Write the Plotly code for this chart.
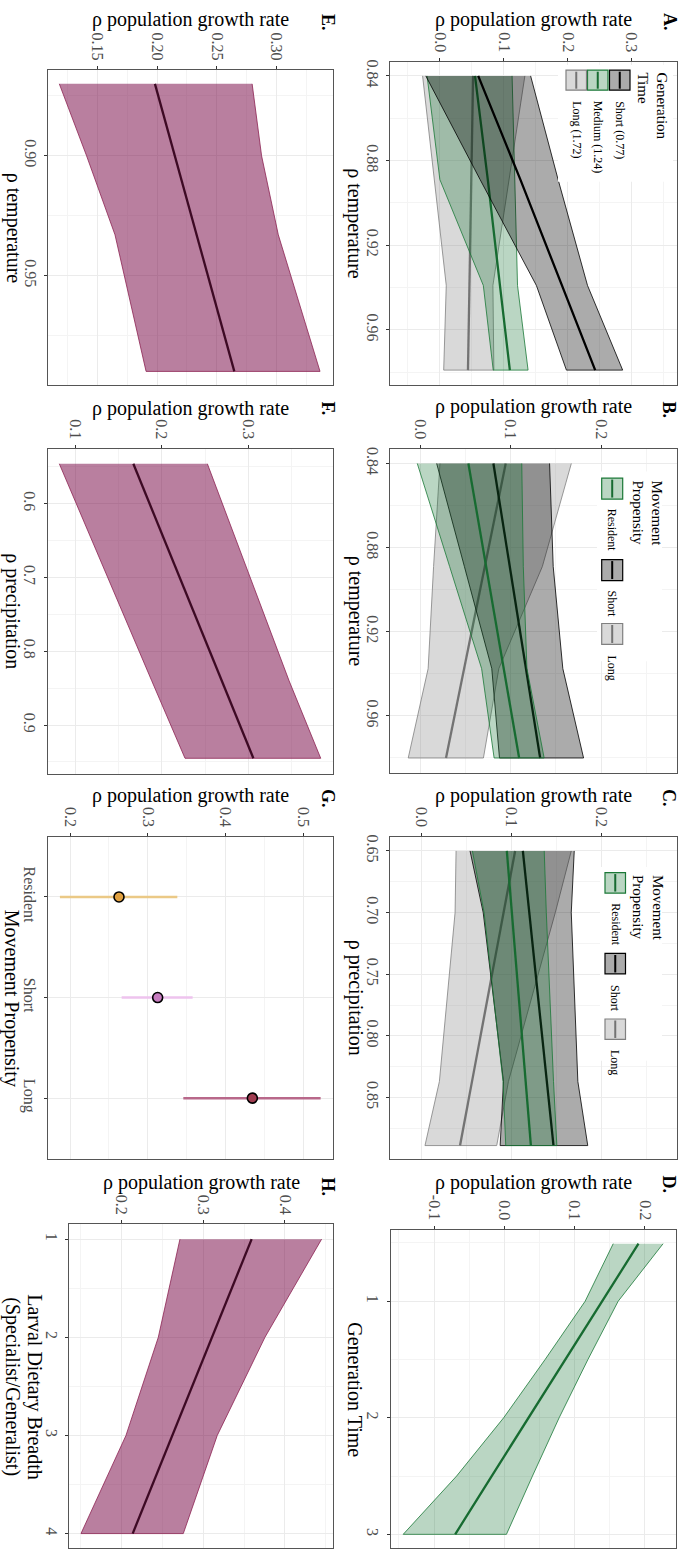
import plotly.graph_objects as go

W, H = 686, 1555
FONT = "Liberation Serif"

# ---------------- DATA ----------------
# Panel A: rho temperature x generation time
a_temp = [0.84, 0.889, 0.939, 0.979]
a_short_mean = [0.060, 0.126, 0.191, 0.243]
a_short_lo = [-0.022, 0.063, 0.151, 0.198]
a_short_hi = [0.142, 0.185, 0.231, 0.286]
a_med_mean = [0.055, 0.075, 0.094, 0.1095]
a_med_lo = [-0.020, 0.000, 0.068, 0.0835]
a_med_hi = [0.113, 0.117, 0.1215, 0.138]
a_long_mean = [0.052, 0.049, 0.046, 0.044]
a_long_lo = [-0.027, -0.009, 0.010, 0.006]
a_long_hi = [0.133, 0.1085, 0.083, 0.0845]
a_labels = ["Short (0.77)", "Medium (1.24)", "Long (1.72)"]

# Panel B: rho temperature x movement propensity
b_temp = [0.84, 0.889, 0.9375, 0.98]
b_res_mean = [0.0534, 0.073, 0.0924, 0.1094]
b_res_lo = [-0.003, 0.0327, 0.068, 0.0818]
b_res_hi = [0.1123, 0.114, 0.118, 0.137]
b_short_mean = [0.081, 0.099, 0.117, 0.1326]
b_short_lo = [0.0184, 0.049, 0.0792, 0.0877]
b_short_hi = [0.143, 0.147, 0.1576, 0.1805]
b_long_mean = [0.0946, 0.0715, 0.0487, 0.0287]
b_long_lo = [0.022, 0.015, 0.009, -0.013]
b_long_hi = [0.167, 0.135, 0.087, 0.070]
move_labels = ["Resident", "Short", "Long"]

# Panel C: rho precipitation x movement propensity
c_prec = [0.65, 0.70, 0.837, 0.889]
c_res_mean = [0.0952, 0.1008, 0.1161, 0.1219]
c_res_lo = [0.057, 0.070, 0.091, 0.094]
c_res_hi = [0.1367, 0.139, 0.147, 0.1507]
c_short_mean = [0.113, 0.1201, 0.1396, 0.147]
c_short_lo = [0.0544, 0.069, 0.0915, 0.0878]
c_short_hi = [0.170, 0.1667, 0.174, 0.185]
c_long_mean = [0.1044, 0.0916, 0.0566, 0.0433]
c_long_lo = [0.0389, 0.0378, 0.0204, 0.0044]
c_long_hi = [0.1667, 0.149, 0.097, 0.084]

# Panel D: generation time
d_gen = [0.506, 1.0, 1.5, 2.0, 2.5, 3.0]
d_mean = [0.191, 0.139, 0.087, 0.034, -0.018, -0.070]
d_lo = [0.155, 0.115, 0.058, -0.001, -0.068, -0.144]
d_hi = [0.226, 0.162, 0.119, 0.078, 0.040, 0.003]

# Panel E: rho temperature
e_temp = [0.870, 0.900, 0.933, 0.990]
e_mean = [0.1982, 0.2148, 0.2331, 0.2646]
e_lo = [0.1182, 0.141, 0.1648, 0.1908]
e_hi = [0.2795, 0.2874, 0.3014, 0.3363]

# Panel F: rho precipitation
f_prec = [0.546, 0.70, 0.84, 0.945]
f_mean = [0.1673, 0.2208, 0.2694, 0.3058]
f_lo = [0.0819, 0.1377, 0.1885, 0.2269]
f_hi = [0.2527, 0.3023, 0.347, 0.3835]

# Panel G: movement propensity (categorical)
g_cats = ["Resident", "Short", "Long"]
g_est = [0.263, 0.3127, 0.4345]
g_lo = [0.187, 0.2664, 0.3457]
g_hi = [0.338, 0.3577, 0.5223]

# Panel H: larval dietary breadth
h_breadth = [1, 2, 3, 4]
h_mean = [0.3592, 0.3106, 0.2620, 0.2135]
h_lo = [0.2714, 0.2449, 0.2053, 0.1502]
h_hi = [0.4449, 0.3755, 0.3171, 0.2755]

# ---------------- STYLE ----------------
SHORT = dict(fill="rgba(0,0,0,0.33)", edge="#000000", line="#000000")
MED = dict(fill="rgba(27,120,55,0.30)", edge="#1B7837", line="#176B31")
LONG = dict(fill="rgba(128,128,128,0.30)", edge="#808080", line="#737373")
MAROON = dict(fill="rgba(120,10,70,0.52)", edge="#8B2252", line="#3D0A24")
G_PT = ["#E0A040", "#C77CC0", "#A03C50"]
G_BAR = ["#EBC986", "#EEC3EE", "#B8688A"]


def px(x):
    return x / W


def py(y):
    return 1 - y / H


fig = go.Figure()


def band(i, pred, lo, hi, mean, st, lw=2.3):
    ax = "" if i == 1 else str(i)
    fig.add_trace(go.Scatter(
        x=list(hi) + list(lo)[::-1], y=list(pred) + list(pred)[::-1],
        fill="toself", fillcolor=st["fill"], mode="lines",
        line=dict(color=st["edge"], width=0.8),
        xaxis="x" + ax, yaxis="y" + ax, hoverinfo="skip", showlegend=False))
    fig.add_trace(go.Scatter(
        x=mean, y=pred, mode="lines", line=dict(color=st["line"], width=lw),
        xaxis="x" + ax, yaxis="y" + ax, showlegend=False))


# A
band(1, a_temp, a_long_lo, a_long_hi, a_long_mean, LONG)
band(1, a_temp, a_med_lo, a_med_hi, a_med_mean, MED)
band(1, a_temp, a_short_lo, a_short_hi, a_short_mean, SHORT)
# B
band(2, b_temp, b_long_lo, b_long_hi, b_long_mean, LONG)
band(2, b_temp, b_short_lo, b_short_hi, b_short_mean, SHORT)
band(2, b_temp, b_res_lo, b_res_hi, b_res_mean, MED)
# C
band(3, c_prec, c_long_lo, c_long_hi, c_long_mean, LONG)
band(3, c_prec, c_short_lo, c_short_hi, c_short_mean, SHORT)
band(3, c_prec, c_res_lo, c_res_hi, c_res_mean, MED)
# D
band(4, d_gen, d_lo, d_hi, d_mean, MED)
# E, F, H
band(5, e_temp, e_lo, e_hi, e_mean, MAROON)
band(6, f_prec, f_lo, f_hi, f_mean, MAROON)
band(8, h_breadth, h_lo, h_hi, h_mean, MAROON)
# G
for k, c in enumerate(g_cats):
    fig.add_trace(go.Scatter(
        x=[g_est[k]], y=[k + 1], mode="markers",
        error_x=dict(type="data", symmetric=False,
                     array=[g_hi[k] - g_est[k]], arrayminus=[g_est[k] - g_lo[k]],
                     color=G_BAR[k], thickness=2.5, width=0),
        marker=dict(size=10, color=G_PT[k], line=dict(color="#000000", width=1.6)),
        xaxis="x7", yaxis="y7", showlegend=False))

# ---------------- AXES ----------------
TICKFONT = dict(family=FONT, size=16, color="#4D4D4D")
common = dict(ticks="outside", ticklen=3, tickcolor="#333333", tickwidth=1,
              tickangle=90, tickfont=TICKFONT, showgrid=True, gridcolor="#EBEBEB",
              gridwidth=1, showline=True, linecolor="#555555", linewidth=1,
              mirror=True, zeroline=False, tickmode="array")


def minor(dt, t0):
    return dict(tickmode="linear", dtick=dt, tick0=t0, showgrid=True,
                gridcolor="#F4F4F4", gridwidth=0.6, ticks="")


def fmt(vals, f):
    return [f.format(v) for v in vals]


panels = {
    1: ((390, 677, 60, 383), [-0.078, 0.371], [0, 0.1, 0.2, 0.3], "{:.1f}", 0.05,
        [0.9858, 0.8334], [0.84, 0.88, 0.92, 0.96], "{:.2f}", (0.02, 0.84)),
    2: ((390, 677, 447.3, 771.7), [-0.0331, 0.2836], [0, 0.1, 0.2], "{:.1f}", 0.05,
        [0.987, 0.833], [0.84, 0.88, 0.92, 0.96], "{:.2f}", (0.02, 0.84)),
    3: ((390, 677, 835.7, 1158), [-0.0344, 0.284], [0, 0.1, 0.2], "{:.1f}", 0.05,
        [0.8995, 0.6384], [0.65, 0.70, 0.75, 0.80, 0.85], "{:.2f}", (0.025, 0.65)),
    4: ((390.7, 676, 1229.3, 1548.3), [-0.1618, 0.2444], [-0.1, 0, 0.1, 0.2], "{:.1f}", 0.05,
        [3.12, 0.386], [1, 2, 3], "{:d}", (0.5, 0.5)),
    5: ((48.3, 333.3, 68.3, 383.3), [0.109, 0.3474], [0.15, 0.20, 0.25, 0.30], "{:.2f}", 0.025,
        [0.9956, 0.8643], [0.90, 0.95], "{:.2f}", (0.025, 0.875)),
    6: ((47.7, 333.3, 447.3, 772.7), [0.0685, 0.398], [0.1, 0.2, 0.3], "{:.1f}", 0.05,
        [0.9659, 0.5256], [0.6, 0.7, 0.8, 0.9], "{:.1f}", (0.05, 0.55)),
    7: ((47.7, 333.3, 835.7, 1158), [0.1713, 0.5386], [0.2, 0.3, 0.4, 0.5], "{:.1f}", 0.05,
        [3.6, 0.4], [1, 2, 3], None, None),
    8: ((69.3, 333.3, 1224, 1548.3), [0.1359, 0.4592], [0.2, 0.3, 0.4], "{:.1f}", 0.05,
        [4.15, 0.85], [1, 2, 3, 4], "{:d}", (0.5, 0.5)),
}

layout_axes = {}
for i, (box, xr, xt, xf, xm, yr, yt, yf, ym) in panels.items():
    x0, x1, y0, y1 = box
    ax = "" if i == 1 else str(i)
    xa = dict(common)
    xa.update(domain=[px(x0), px(x1)], range=xr, side="top", anchor="y" + ax,
              tickvals=xt, ticktext=[("-" if v < 0 else "") + xf.format(abs(v)) for v in xt],
              minor=minor(xm, 0))
    ya = dict(common)
    ya.update(domain=[py(y1), py(y0)], range=yr, side="left", anchor="x" + ax,
              tickvals=yt, ticktext=(g_cats if yf is None else fmt(yt, yf)))
    if ym is not None:
        ya["minor"] = minor(ym[0], ym[1])
    layout_axes["xaxis" + ax] = xa
    layout_axes["yaxis" + ax] = ya

# ---------------- TEXT ----------------
ann = []


def text(x, y, t, size, angle=90, bold=False, xa="center", ya="middle", align="left"):
    ann.append(dict(x=px(x), y=py(y), xref="paper", yref="paper", text=("<b>%s</b>" % t if bold else t),
                    showarrow=False, textangle=angle, xanchor=xa, yanchor=ya, align=align,
                    font=dict(family=FONT, size=size, color="#000000")))


ytitle = "ρ population growth rate"
for (cx, cy) in [(533.5, 18), (533.5, 405), (533.5, 795), (533.5, 1182),
                 (190.8, 18), (190.5, 407), (190.5, 795), (201.3, 1182)]:
    text(cx, cy, ytitle, 20, angle=0)
text(355, 221.5, "ρ temperature", 20)
text(355, 609.5, "ρ temperature", 20)
text(355, 997, "ρ precipitation", 20)
text(355, 1389, "Generation Time", 20)
text(13, 226, "ρ temperature", 20)
text(13, 610, "ρ precipitation", 20)
text(11, 997, "Movement Propensity", 20)
text(35, 1386, "Larval Dietary Breadth", 20)
text(13, 1386, "(Specialist/Generalist)", 20)
for (lx, ly, lab) in [(670, 20, "A."), (669, 408, "B."), (669, 797, "C."), (669, 1184, "D."),
                      (328, 20, "E."), (328, 407, "F."), (328, 797, "G."), (328, 1186, "H.")]:
    text(lx, ly, lab, 18, bold=True)

# ---------------- LEGENDS ----------------
shapes = []


def rect(x0, y0, x1, y1, fill, edge, lw=1.2):
    shapes.append(dict(type="rect", xref="paper", yref="paper", x0=px(x0), x1=px(x1),
                       y0=py(y1), y1=py(y0), fillcolor=fill, line=dict(color=edge, width=lw),
                       layer="above"))


def key(x0, y0, x1, y1, st):
    rect(x0, y0, x1, y1, "white", "rgba(0,0,0,0)", 0)
    rect(x0, y0, x1, y1, st["fill"], st["edge"], 1.2)
    cx = (x0 + x1) / 2
    shapes.append(dict(type="line", xref="paper", yref="paper", x0=px(cx), x1=px(cx),
                       y0=py(y0 + 1.5), y1=py(y1 - 1.5), line=dict(color=st["line"], width=2),
                       layer="above"))


rect(558, 63, 673, 180, "white", "rgba(0,0,0,0)", 0)
text(652, 68, "Generation<br>Time", 15, ya="top")
for (kx0, kx1, st, lab) in [(609.5, 630, SHORT, a_labels[0]), (587.5, 608, MED, a_labels[1]),
                            (566, 586.5, LONG, a_labels[2])]:
    key(kx0, 68.3, kx1, 88.3, st)
    text((kx0 + kx1) / 2, 97, lab, 12, ya="top")

rect(597, 470, 662, 660, "white", "rgba(0,0,0,0)", 0)
text(647, 477, "Movement<br>Propensity", 15, ya="top")
for (ky0, ly, st, lab) in [(476.7, 505, MED, move_labels[0]), (558.3, 587, SHORT, move_labels[1]),
                           (622.3, 652, LONG, move_labels[2])]:
    key(601.7, ky0, 622.7, ky0 + 21, st)
    text(612.2, ly, lab, 12, ya="top")

rect(600, 866, 662, 1060, "white", "rgba(0,0,0,0)", 0)
text(648, 872, "Movement<br>Propensity", 15, ya="top")
for (ky0, ly, st, lab) in [(871.7, 900, MED, move_labels[0]), (952.7, 982, SHORT, move_labels[1]),
                           (1018.3, 1047, LONG, move_labels[2])]:
    key(605, ky0, 625.5, ky0 + 20.5, st)
    text(615.2, ly, lab, 12, ya="top")

fig.update_layout(width=W, height=H, margin=dict(l=0, r=0, t=0, b=0),
                  paper_bgcolor="white", plot_bgcolor="white", showlegend=False,
                  annotations=ann, shapes=shapes, **layout_axes)

fig.write_html("out.html", config={"displayModeBar": False},
               post_script="document.body.style.margin='0';document.body.style.padding='0';")
